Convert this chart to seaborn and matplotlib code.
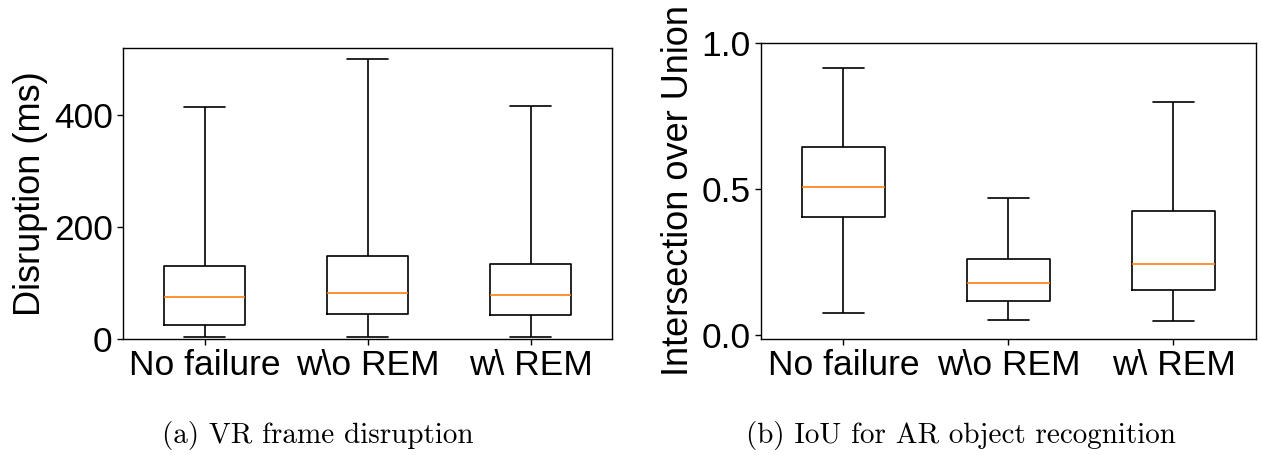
import numpy as np
import pandas as pd
import matplotlib
matplotlib.use("Agg")
import matplotlib.pyplot as plt
import seaborn as sns

categories = ["No failure", "w\\o REM", "w\\ REM"]

# Five-number summaries per scenario: min, q1, median, q3, max
disruption_no_failure = [4, 25, 74, 131, 413]
disruption_without_rem = [4, 45, 82, 148, 500]
disruption_with_rem = [4, 43, 78, 133, 416]

iou_no_failure = [0.076, 0.405, 0.507, 0.645, 0.915]
iou_without_rem = [0.051, 0.117, 0.179, 0.261, 0.470]
iou_with_rem = [0.048, 0.156, 0.244, 0.424, 0.797]

disruption_ticks = [0, 200, 400]
iou_ticks = [0.0, 0.5, 1.0]


def long_frame(groups):
    rows = []
    for name, values in zip(categories, groups):
        for v in values:
            rows.append({"scenario": name, "value": v})
    return pd.DataFrame(rows)


df_disruption = long_frame([disruption_no_failure, disruption_without_rem, disruption_with_rem])
df_iou = long_frame([iou_no_failure, iou_without_rem, iou_with_rem])

sns.set_theme(style="ticks")
plt.rcParams["font.family"] = ["Liberation Sans", "DejaVu Sans"]
plt.rcParams.update({
    "axes.edgecolor": "black",
    "axes.labelcolor": "black",
    "xtick.color": "black",
    "ytick.color": "black",
    "text.color": "black",
    "axes.linewidth": 1.0,
    "xtick.major.size": 4.5,
    "ytick.major.size": 4.5,
    "xtick.major.width": 1.0,
    "ytick.major.width": 1.0,
})

FS_TICK = 25.5
FS_LABEL = 26

fig = plt.figure(figsize=(12.62, 4.55), dpi=100)
ax1 = fig.add_axes([0.0975, 0.255, 0.3875, 0.6395])
ax2 = fig.add_axes([0.603, 0.2556, 0.3922, 0.650])

box_kws = dict(
    x="scenario", y="value", order=categories,
    whis=(0, 100), fill=False, color="black", width=0.5, linewidth=1.2,
    showfliers=False,
    medianprops=dict(color="#ff7f0e", linewidth=1.2),
)

sns.boxplot(data=df_disruption, ax=ax1, **box_kws)
sns.boxplot(data=df_iou, ax=ax2, **box_kws)

ax1.set_ylim(0, 519)
ax1.set_yticks(disruption_ticks)
ax1.set_ylabel("Disruption (ms)", fontsize=FS_LABEL, labelpad=4)
ax2.set_ylim(-0.012, 1.0)
ax2.set_yticks(iou_ticks)
ax2.set_yticklabels([f"{t:.1f}" for t in iou_ticks])
ax2.set_ylabel("Intersection over Union", fontsize=FS_LABEL, labelpad=4)

for ax in (ax1, ax2):
    ax.set_xlabel("")
    ax.set_xlim(-0.5, 2.5)
    ax.tick_params(axis="both", labelsize=FS_TICK, pad=3)
    for s in ax.spines.values():
        s.set_visible(True)
        s.set_color("black")

fig.text(317.5 / 1262, 1 - 436 / 455, "(a) VR frame disruption",
         family="cmr10", fontsize=21, ha="center", va="center")
fig.text(960.5 / 1262, 1 - 436 / 455, "(b) IoU for AR object recognition",
         family="cmr10", fontsize=21, ha="center", va="center")

fig.savefig("out.png", dpi=100, facecolor="white")
